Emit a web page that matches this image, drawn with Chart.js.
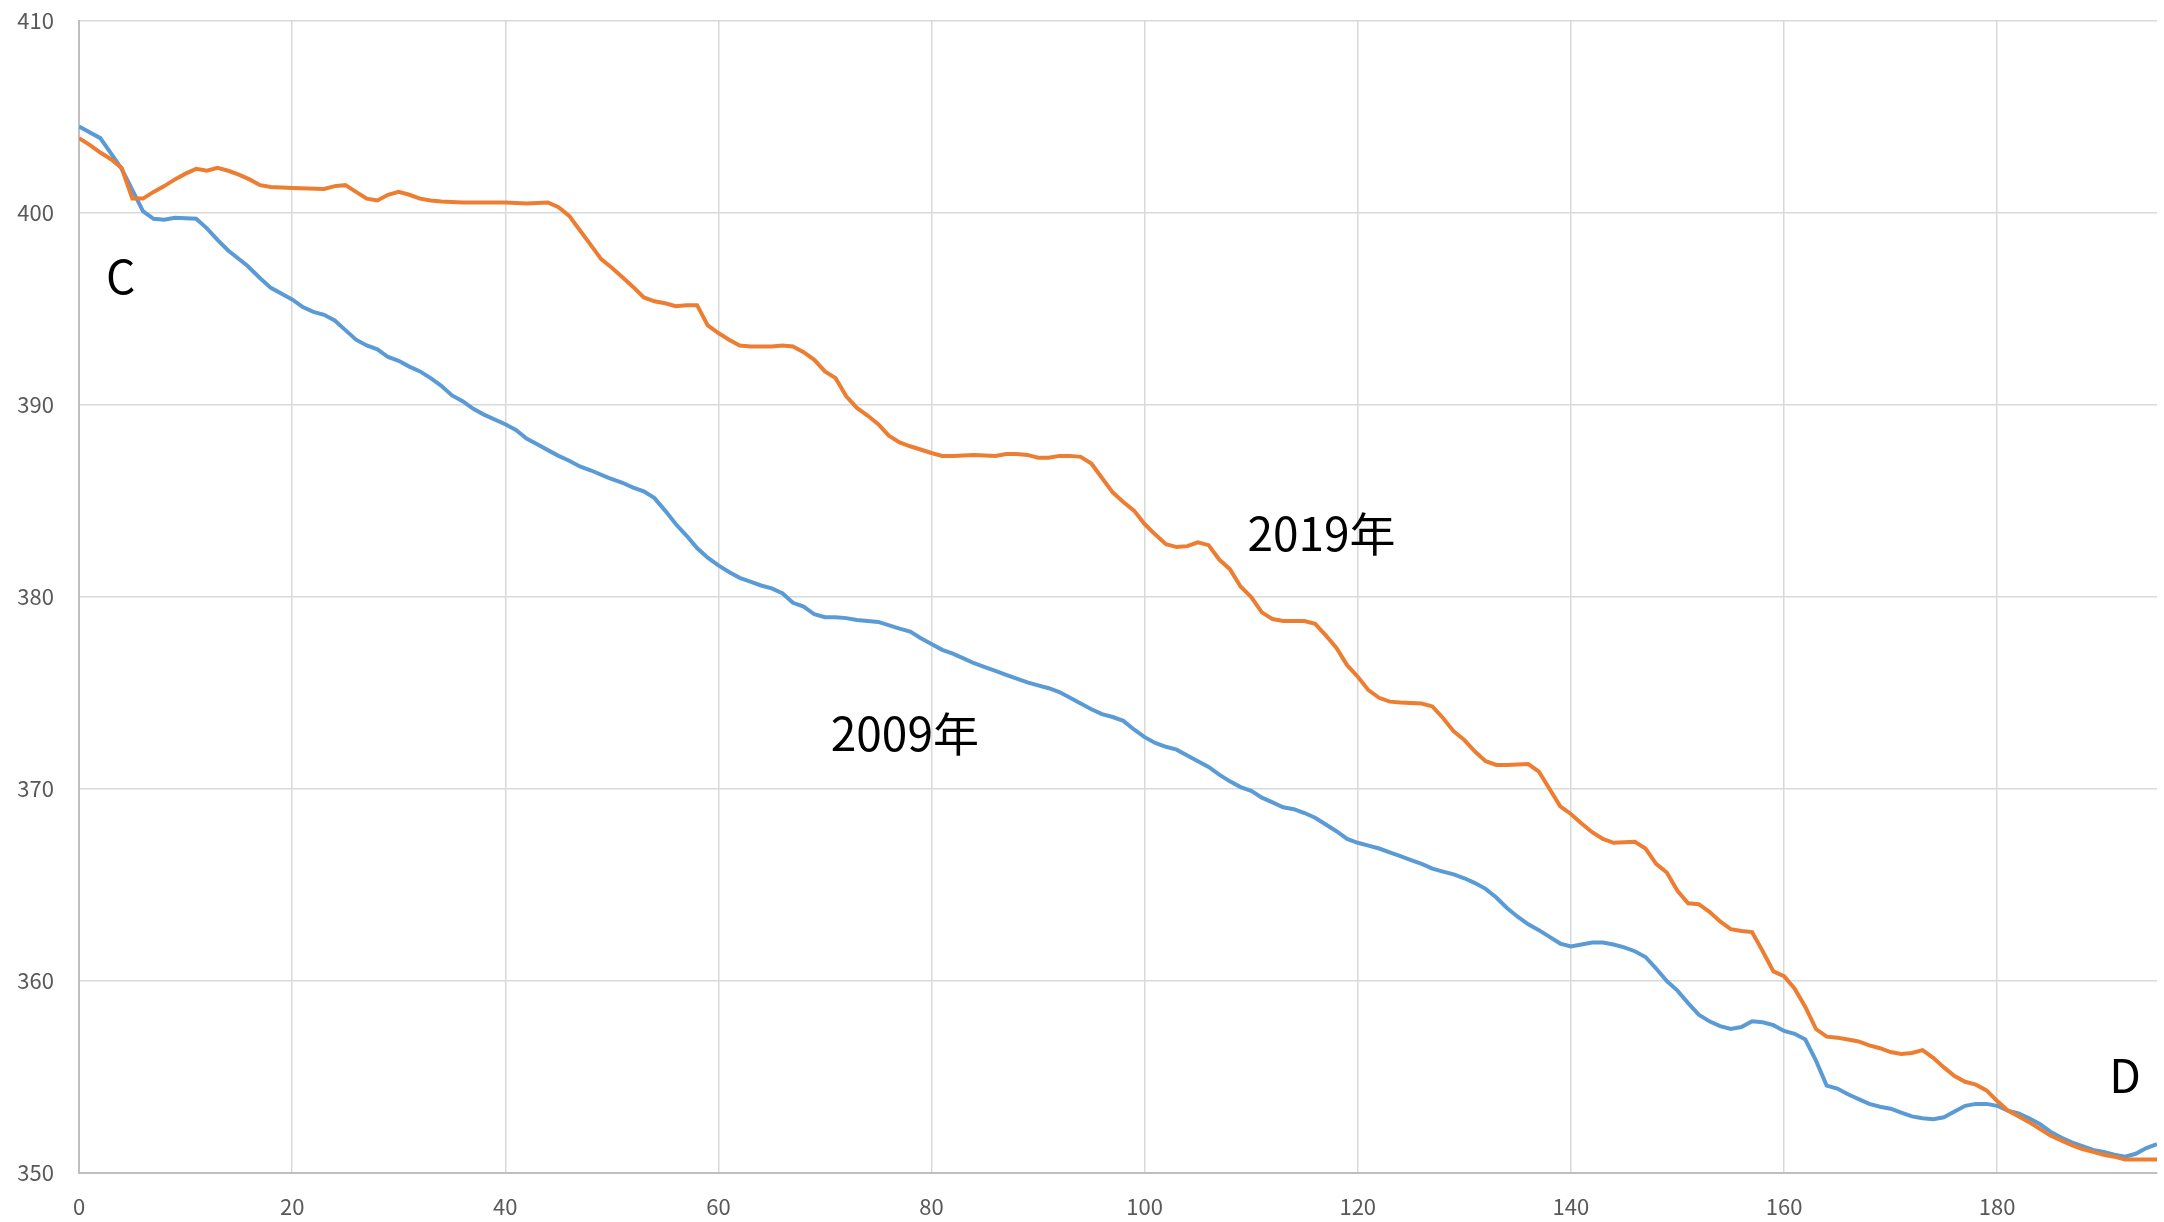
<!DOCTYPE html>
<html lang="ja">
<head>
    <meta charset="UTF-8">
    <title>2009年と2019年の比較</title>
    <script src="https://cdn.jsdelivr.net/npm/chart.js"></script>
    <style>
        body {
            margin: 0;
            padding: 0;
            background-color: #fff;
        }
        canvas {
            display: block;
        }
    </style>
</head>
<body>
    <canvas id="myChart" width="2164" height="1222"></canvas>
    <script>
        // 2009年 (blue)
        const x2009 = [
            0, 2, 3, 4, 5, 6, 7, 8, 9, 11, 12, 13, 14, 15.8, 17, 18, 20, 21, 22, 23,
            24, 25, 26, 27, 28, 29, 30, 31, 32, 33, 34, 35, 36, 37, 38, 40, 41, 42, 43, 44,
            45, 46, 47, 48, 49.7, 51, 52, 53, 54, 55, 56, 57, 58, 59, 60, 61, 62, 63, 64, 65,
            66, 67, 68, 69, 70, 71, 72, 73, 75, 77, 78, 79, 80, 81, 82, 83, 84, 85, 86, 87,
            88, 89, 90, 91, 92, 93, 94, 95, 96, 97, 98, 99, 100, 101, 102, 103, 104, 105, 106, 107,
            108, 109, 110, 111, 112, 113, 114, 115, 116, 117, 118, 119, 120, 121, 122, 123, 124, 125, 126, 127,
            128, 129, 130, 131, 132, 133, 134, 135, 136, 137, 138, 139, 140, 141, 142, 143, 144, 145, 146, 147,
            148, 149, 150, 151, 152, 153, 154, 155, 156, 157, 158, 159, 160, 161, 162, 163, 164, 165, 166, 167,
            168, 169, 170, 171, 172, 173, 174, 175, 176, 177, 178, 179, 180, 181, 182, 183, 184, 185, 186, 187,
            188, 189, 190, 191, 192, 193, 194, 195
        ];
        const y2009 = [
            404.5, 403.9, 403.1, 402.3, 401.2, 400.1, 399.7, 399.65, 399.75, 399.7, 399.2, 398.6, 398.05, 397.25, 396.6, 396.1, 395.5, 395.1, 394.85, 394.7,
            394.4, 393.9, 393.4, 393.1, 392.9, 392.5, 392.3, 392.0, 391.75, 391.4, 391.0, 390.5, 390.2, 389.8, 389.5, 389.0, 388.7, 388.25, 387.95, 387.65,
            387.35, 387.1, 386.8, 386.6, 386.2, 385.95, 385.7, 385.5, 385.15, 384.5, 383.8, 383.2, 382.55, 382.05, 381.65, 381.3, 381.0, 380.8, 380.6, 380.45,
            380.2, 379.7, 379.5, 379.1, 378.95, 378.95, 378.9, 378.8, 378.7, 378.35, 378.2, 377.85, 377.55, 377.25, 377.05, 376.8, 376.55, 376.35, 376.15, 375.95,
            375.75, 375.55, 375.4, 375.25, 375.05, 374.75, 374.45, 374.15, 373.9, 373.75, 373.55, 373.1, 372.7, 372.4, 372.2, 372.05, 371.75, 371.45, 371.15, 370.75,
            370.4, 370.1, 369.9, 369.55, 369.3, 369.05, 368.95, 368.75, 368.5, 368.15, 367.8, 367.4, 367.2, 367.05, 366.9, 366.7, 366.5, 366.3, 366.1, 365.85,
            365.7, 365.55, 365.35, 365.1, 364.8, 364.35, 363.8, 363.35, 362.95, 362.65, 362.3, 361.95, 361.8, 361.9, 362.0, 362.0, 361.9, 361.75, 361.55, 361.25,
            360.65, 360.0, 359.5, 358.85, 358.25, 357.9, 357.65, 357.5, 357.6, 357.9, 357.85, 357.7, 357.4, 357.25, 356.95, 355.85, 354.55, 354.4, 354.1, 353.85,
            353.6, 353.45, 353.35, 353.15, 352.95, 352.85, 352.8, 352.9, 353.2, 353.5, 353.6, 353.6, 353.5, 353.25, 353.1, 352.85, 352.55, 352.15, 351.85, 351.6,
            351.4, 351.2, 351.1, 350.95, 350.85, 351.0, 351.3, 351.5
        ];

        // 2019年 (orange)
        const x2019 = [
            0, 1, 2, 3, 4, 5, 6, 7, 8, 9, 10, 11, 12, 13, 14, 15, 16, 17, 18, 20,
            23, 24, 25, 26, 27, 28, 29, 30, 31, 32, 33, 34, 36, 40, 42, 44, 45, 46, 47, 48,
            49, 50, 51, 52, 53, 54, 55, 56, 57, 58, 59, 60, 61, 62, 63, 65, 66, 67, 68, 69,
            70, 71, 72, 73, 74, 75, 76, 77, 78, 80, 81, 82, 84, 86, 87, 88, 89, 90, 91, 92,
            93, 94, 95, 96, 97, 98, 99, 100, 101, 102, 103, 104, 105, 106, 107, 108, 109, 110, 111, 112,
            113, 115, 116, 117, 118, 119, 120, 121, 122, 123, 124, 126, 127, 128, 129, 130, 131, 132, 133, 134,
            136, 137, 138, 139, 140, 141, 142, 143, 144, 146, 147, 148, 149, 150, 151, 152, 153, 154, 155, 156,
            157, 158, 159, 160, 161, 162, 163, 164, 165, 166, 167, 168, 169, 170, 171, 172, 173, 174, 175, 176,
            177, 178, 179, 180, 181, 182, 183, 184, 185, 186, 187, 188, 189, 190, 191, 192, 193, 195
        ];
        const y2019 = [
            403.9, 403.55, 403.15, 402.8, 402.35, 400.75, 400.75, 401.1, 401.4, 401.75, 402.05, 402.3, 402.2, 402.35, 402.2, 402.0, 401.75, 401.45, 401.35, 401.3,
            401.25, 401.4, 401.45, 401.1, 400.75, 400.65, 400.95, 401.1, 400.95, 400.75, 400.65, 400.6, 400.55, 400.55, 400.5, 400.55, 400.3, 399.85, 399.1, 398.35,
            397.6, 397.15, 396.65, 396.15, 395.6, 395.4, 395.3, 395.15, 395.2, 395.2, 394.15, 393.75, 393.4, 393.1, 393.05, 393.05, 393.1, 393.05, 392.75, 392.35,
            391.75, 391.4, 390.45, 389.85, 389.45, 389.0, 388.4, 388.05, 387.85, 387.5, 387.35, 387.35, 387.4, 387.35, 387.45, 387.45, 387.4, 387.25, 387.25, 387.35,
            387.35, 387.3, 386.95, 386.2, 385.45, 384.95, 384.5, 383.8, 383.25, 382.75, 382.6, 382.65, 382.85, 382.7, 381.95, 381.45, 380.55, 380.0, 379.2, 378.85,
            378.75, 378.75, 378.6, 378.0, 377.35, 376.45, 375.85, 375.15, 374.75, 374.55, 374.5, 374.45, 374.3, 373.7, 373.0, 372.55, 371.95, 371.45, 371.25, 371.25,
            371.3, 370.9, 370.0, 369.1, 368.7, 368.2, 367.75, 367.4, 367.2, 367.25, 366.9, 366.1, 365.65, 364.7, 364.05, 364.0, 363.6, 363.1, 362.7, 362.6,
            362.55, 361.55, 360.5, 360.25, 359.6, 358.65, 357.5, 357.1, 357.05, 356.95, 356.85, 356.65, 356.5, 356.3, 356.2, 356.25, 356.4, 356.0, 355.5, 355.05,
            354.75, 354.6, 354.3, 353.75, 353.25, 352.95, 352.65, 352.3, 351.95, 351.7, 351.45, 351.25, 351.1, 350.95, 350.85, 350.7, 350.7, 350.7
        ];

        // text placed on the plot (data coordinates)
        const labels = [
            { text: 'C', x: 3.9, y: 396.7 },
            { text: '2019年', x: 116.6, y: 383.3 },
            { text: '2009年', x: 77.5, y: 372.9 },
            { text: 'D', x: 192, y: 355.1 }
        ];

        const toPoints = (xs, ys) => xs.map((x, i) => ({ x: x, y: ys[i] }));

        const labelPlugin = {
            id: 'labelPlugin',
            afterDatasetsDraw(chart) {
                const ctx = chart.ctx;
                const sx = chart.scales.x;
                const sy = chart.scales.y;
                ctx.save();
                ctx.fillStyle = '#000';
                ctx.font = '46px "Noto Sans CJK JP"';
                ctx.textAlign = 'center';
                ctx.textBaseline = 'middle';
                labels.forEach(l => {
                    ctx.fillText(l.text, sx.getPixelForValue(l.x), sy.getPixelForValue(l.y));
                });
                ctx.restore();
            }
        };

        const tickFont = { family: '"Noto Sans CJK JP"', size: 22 };

        new Chart(document.getElementById('myChart'), {
            type: 'line',
            data: {
                datasets: [
                    {
                        label: '2019年',
                        data: toPoints(x2019, y2019),
                        borderColor: '#ED7D31',
                        borderWidth: 4,
                        pointRadius: 0,
                        tension: 0,
                        order: 0
                    },
                    {
                        label: '2009年',
                        data: toPoints(x2009, y2009),
                        borderColor: '#5B9BD5',
                        borderWidth: 4,
                        pointRadius: 0,
                        tension: 0,
                        order: 1
                    }
                ]
            },
            options: {
                responsive: false,
                animation: false,
                layout: { padding: { top: 21, right: 7, left: 0, bottom: 0 } },
                plugins: {
                    legend: { display: false },
                    tooltip: { enabled: false }
                },
                scales: {
                    x: {
                        type: 'linear',
                        min: 0,
                        max: 195,
                        afterBuildTicks: s => { s.ticks = s.ticks.filter(t => t.value % 20 === 0); },
                        afterFit: s => { s.height = 49; s.paddingLeft = 0; s.paddingRight = 0; },
                        ticks: { stepSize: 20, padding: 20, color: '#595959', font: tickFont, maxRotation: 0 },
                        grid: { color: '#D9D9D9', lineWidth: 1.5, drawTicks: false },
                        border: { color: '#BFBFBF', width: 2 }
                    },
                    y: {
                        min: 350,
                        max: 410,
                        afterFit: s => { s.width = 79; s.paddingTop = 0; s.paddingBottom = 0; },
                        ticks: { stepSize: 10, padding: 25, color: '#595959', font: tickFont },
                        grid: { color: '#D9D9D9', lineWidth: 1.5, drawTicks: false },
                        border: { color: '#BFBFBF', width: 2 }
                    }
                }
            },
            plugins: [labelPlugin]
        });
    </script>
</body>
</html>
